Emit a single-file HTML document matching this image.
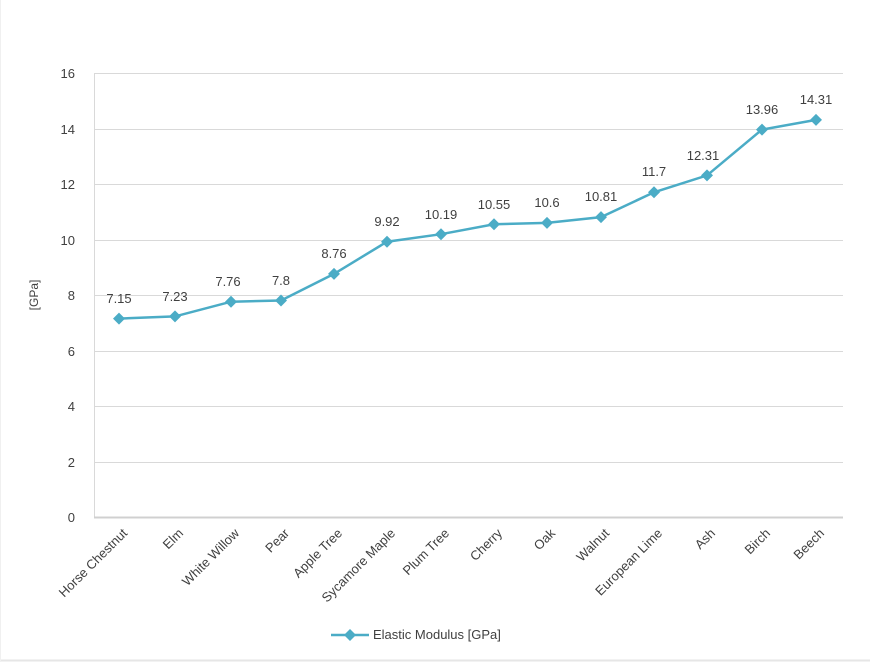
<!DOCTYPE html>
<html><head><style>
html,body{margin:0;padding:0;background:#fff;}
svg{display:block;font-family:"Liberation Sans",sans-serif;}
</style></head><body>
<svg width="870" height="662" viewBox="0 0 870 662">
<rect x="0" y="0" width="870" height="662" fill="#fff"/>
<line x1="0" y1="660.5" x2="870" y2="660.5" stroke="#e6e6e6" stroke-width="2"/>
<line x1="0.5" y1="0" x2="0.5" y2="662" stroke="#f0f0f0"/>
<g stroke="#d9d9d9" stroke-width="1">
<line x1="94" y1="73.5" x2="843" y2="73.5"/>
<line x1="94" y1="129.5" x2="843" y2="129.5"/>
<line x1="94" y1="184.5" x2="843" y2="184.5"/>
<line x1="94" y1="240.5" x2="843" y2="240.5"/>
<line x1="94" y1="295.5" x2="843" y2="295.5"/>
<line x1="94" y1="351.5" x2="843" y2="351.5"/>
<line x1="94" y1="406.5" x2="843" y2="406.5"/>
<line x1="94" y1="462.5" x2="843" y2="462.5"/>
<line x1="94.5" y1="73" x2="94.5" y2="517"/>
</g>
<line x1="94" y1="517.5" x2="843" y2="517.5" stroke="#d0d0d0" stroke-width="2"/>
<g font-size="13" fill="#404040" text-anchor="end">
<text x="75" y="78">16</text><text x="75" y="134">14</text><text x="75" y="189">12</text>
<text x="75" y="245">10</text><text x="75" y="300">8</text><text x="75" y="356">6</text>
<text x="75" y="411">4</text><text x="75" y="467">2</text><text x="75" y="522">0</text>
</g>
<text transform="translate(38,295) rotate(-90)" font-size="12" fill="#404040" text-anchor="middle">[GPa]</text>
<polyline fill="none" stroke="#4bacc6" stroke-width="2.5" points="119,318.6 175,316.4 231,301.7 281,300.5 334,273.9 387,241.7 441,234.2 494,224.3 547,222.9 601,217.1 654,192.3 707,175.4 762,129.6 816,119.9"/>
<g fill="#4bacc6">
<path d="M119,312.6l6,6l-6,6l-6,-6z"/><path d="M175,310.4l6,6l-6,6l-6,-6z"/>
<path d="M231,295.7l6,6l-6,6l-6,-6z"/><path d="M281,294.5l6,6l-6,6l-6,-6z"/>
<path d="M334,267.9l6,6l-6,6l-6,-6z"/><path d="M387,235.7l6,6l-6,6l-6,-6z"/>
<path d="M441,228.2l6,6l-6,6l-6,-6z"/><path d="M494,218.3l6,6l-6,6l-6,-6z"/>
<path d="M547,216.9l6,6l-6,6l-6,-6z"/><path d="M601,211.1l6,6l-6,6l-6,-6z"/>
<path d="M654,186.3l6,6l-6,6l-6,-6z"/><path d="M707,169.4l6,6l-6,6l-6,-6z"/>
<path d="M762,123.6l6,6l-6,6l-6,-6z"/><path d="M816,113.9l6,6l-6,6l-6,-6z"/>
</g>
<g font-size="13" fill="#404040" text-anchor="middle">
<text x="119" y="303">7.15</text><text x="175" y="301">7.23</text><text x="228" y="286">7.76</text>
<text x="281" y="285">7.8</text><text x="334" y="258">8.76</text><text x="387" y="226">9.92</text>
<text x="441" y="219">10.19</text><text x="494" y="209">10.55</text><text x="547" y="207">10.6</text>
<text x="601" y="201">10.81</text><text x="654" y="176">11.7</text><text x="703" y="160">12.31</text>
<text x="762" y="114">13.96</text><text x="816" y="104">14.31</text>
</g>
<g font-size="13" fill="#404040" text-anchor="end">
<text transform="translate(128,534) rotate(-45)">Horse Chestnut</text>
<text transform="translate(184,534) rotate(-45)">Elm</text>
<text transform="translate(240,534) rotate(-45)">White Willow</text>
<text transform="translate(290,534) rotate(-45)">Pear</text>
<text transform="translate(343,534) rotate(-45)">Apple Tree</text>
<text transform="translate(396,534) rotate(-45)">Sycamore Maple</text>
<text transform="translate(450,534) rotate(-45)">Plum Tree</text>
<text transform="translate(503,534) rotate(-45)">Cherry</text>
<text transform="translate(556,534) rotate(-45)">Oak</text>
<text transform="translate(610,534) rotate(-45)">Walnut</text>
<text transform="translate(663,534) rotate(-45)">European Lime</text>
<text transform="translate(716,534) rotate(-45)">Ash</text>
<text transform="translate(771,534) rotate(-45)">Birch</text>
<text transform="translate(825,534) rotate(-45)">Beech</text>
</g>
<line x1="331" y1="635" x2="369" y2="635" stroke="#4bacc6" stroke-width="2.5"/>
<path d="M350,629l6,6l-6,6l-6,-6z" fill="#4bacc6"/>
<text x="373" y="639" font-size="13" fill="#404040">Elastic Modulus [GPa]</text>
</svg>
</body></html>
